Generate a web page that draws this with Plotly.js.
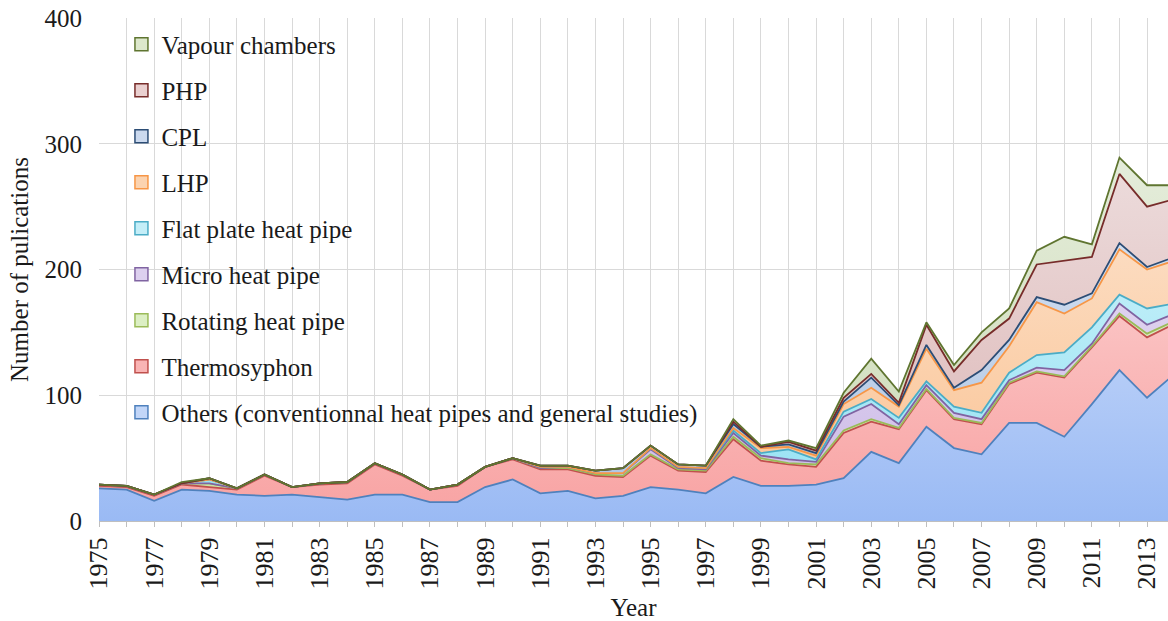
<!DOCTYPE html>
<html>
<head>
<meta charset="utf-8">
<script src="https://cdn.plot.ly/plotly-3.0.1.min.js"></script>
<style>html,body{margin:0;padding:0;background:#fff;}#chart{width:1168px;height:621px;}</style>
</head>
<body>
<div id="chart"></div>
<script>
const years = [1975,1976,1977,1978,1979,1980,1981,1982,1983,1984,1985,1986,1987,1988,1989,1990,1991,1992,1993,1994,1995,1996,1997,1998,1999,2000,2001,2002,2003,2004,2005,2006,2007,2008,2009,2010,2011,2012,2013,2014];

const others      = [26,25,16,25,24,21,20,21,19,17,21,21,15,15,27,33,22,24,18,20,27,25,22,35,28,28,29,34,55,46,75,58,53,78,78,67,93,120,98,117];
const thermosyphon= [2,2,4,4,3,4,16,6,10,13,24,15,10,13,16,16,19,17,18,15,25,15,17,30,20,17,14,36,24,27,29,23,24,31,40,47,45,43,48,40];
const rotating    = [1,1,1,1,3,1,1,0,1,1,1,1,0,1,0,1,1,1,1,1,1,1,1,2,2,1,2,2,2,1,1,1,1,1,1,1,1,2,3,2];
const microHP     = [0,0,0,0,0,0,0,0,0,0,0,0,0,0,0,0,0,1,1,2,4,1,1,3,2,3,2,11,12,3,3,4,3,2,3,5,2,8,7,6];
const flatPlate   = [0,0,0,0,3,0,0,0,0,0,0,0,0,0,0,0,1,0,0,0,1,1,1,2,2,8,2,4,4,5,3,5,5,6,10,14,13,7,13,8];
const lhp         = [0,0,0,0,0,0,0,0,0,0,0,0,0,0,0,0,0,0,0,0,0,0,0,2,4,2,3,6,9,9,26,13,24,21,42,31,23,36,31,34];
const cpl         = [0,0,0,0,1,0,0,0,0,0,0,0,0,0,0,0,1,1,2,4,2,2,2,3,1,2,2,2,8,1,3,2,10,5,4,7,4,5,2,3];
const php         = [0,0,0,0,0,0,0,0,0,0,0,0,0,0,0,0,0,0,0,0,0,0,0,2,0,2,2,3,3,2,16,13,24,17,26,35,29,55,48,46];
const vapour      = [0,0,0,1,0,0,0,0,0,0,0,0,0,0,0,0,0,0,0,0,0,0,0,2,1,1,2,4,12,9,2,5,6,8,11,19,10,13,17,11];

const seriesNames = ["Others (conventionnal heat pipes and general studies)","Thermosyphon","Rotating heat pipe","Micro heat pipe","Flat plate heat pipe","LHP","CPL","PHP","Vapour chambers"];
const seriesData = [others, thermosyphon, rotating, microHP, flatPlate, lhp, cpl, php, vapour];
const lineColors = ["#4f81bd","#c0504d","#9bbb59","#8064a2","#4bacc6","#f79646","#2c4d75","#772c2a","#5f7530"];
const fillDark  = ["#9abaf4","#f8a2a2","#c8e3a0","#cbb9e6","#92e1f3","#fac292","#abc2e2","#dbb4b4","#cbdab4"];
const fillLight = ["#e4edfd","#fde3e3","#eef6e2","#efe8f7","#e0f7fc","#fde9d8","#e4ecf6","#efe2e2","#e8efe0"];
const legendSwatch = ["#c2d6f8","#f9b4b4","#dcefc4","#ddd0ef","#c4eef8","#fbd3b0","#cbd9ee","#ead0d0","#dde8cc"];

const font = {family: '"Liberation Serif", "Times New Roman", serif', color: '#1a1a1a'};

const traces = seriesNames.map((name, i) => ({
  type: 'scatter',
  mode: 'lines',
  x: years,
  y: seriesData[i],
  name: name,
  stackgroup: 'one',
  showlegend: false,
  line: {color: lineColors[i], width: 1.8},
  fillcolor: fillDark[i],
  fillgradient: {type: 'vertical', start: 0, stop: 330, colorscale: [[0, fillDark[i]], [1, fillLight[i]]]},
  hoverinfo: 'x+y+name'
}));

// legend entries (square swatches like the original), top item = last series
const legendTraces = seriesNames.map((name, i) => ({
  type: 'scatter',
  mode: 'markers',
  x: [null], y: [null],
  name: name,
  legendgroup: 'g' + i,
  legendrank: 100 - i,
  showlegend: true,
  marker: {symbol: 'square', size: 13, color: legendSwatch[i], line: {color: lineColors[i], width: 1.5}}
}));

const layout = {
  width: 1168, height: 621,
  margin: {l: 99, r: 0, t: 18, b: 100},
  paper_bgcolor: '#ffffff',
  plot_bgcolor: '#ffffff',
  font: Object.assign({size: 22}, font),
  showlegend: true,
  legend: {
    x: 0.021, y: 0.993, xanchor: 'left', yanchor: 'top',
    bgcolor: 'rgba(255,255,255,0)',
    traceorder: 'grouped',
    tracegroupgap: 10.5,
    itemwidth: 30,
    font: Object.assign({size: 25}, font)
  },
  xaxis: {
    range: [1975, 2013.76],
    tick0: 1975, dtick: 2,
    tickangle: -90,
    showgrid: true, gridcolor: '#d9d9d9', gridwidth: 1,
    minor: {dtick: 1, showgrid: true, gridcolor: '#d9d9d9', ticks: 'outside', ticklen: 5, tickcolor: '#bfbfbf'},
    ticks: 'outside', ticklen: 5, tickcolor: '#bfbfbf',
    showline: true, linecolor: '#bfbfbf',
    zeroline: false,
    tickfont: Object.assign({size: 26}, font),
    title: {text: 'Year', font: Object.assign({size: 25}, font), standoff: 12}
  },
  yaxis: {
    range: [0, 400],
    dtick: 100,
    showgrid: true, gridcolor: '#d9d9d9', gridwidth: 1,
    zeroline: false,
    showline: false,
    ticklabelstandoff: 16,
    tickfont: Object.assign({size: 25}, font),
    title: {text: 'Number of pulications', font: Object.assign({size: 25}, font), standoff: 8}
  }
};

Plotly.newPlot('chart', traces.concat(legendTraces), layout, {displayModeBar: false, staticPlot: true});
</script>
</body>
</html>
